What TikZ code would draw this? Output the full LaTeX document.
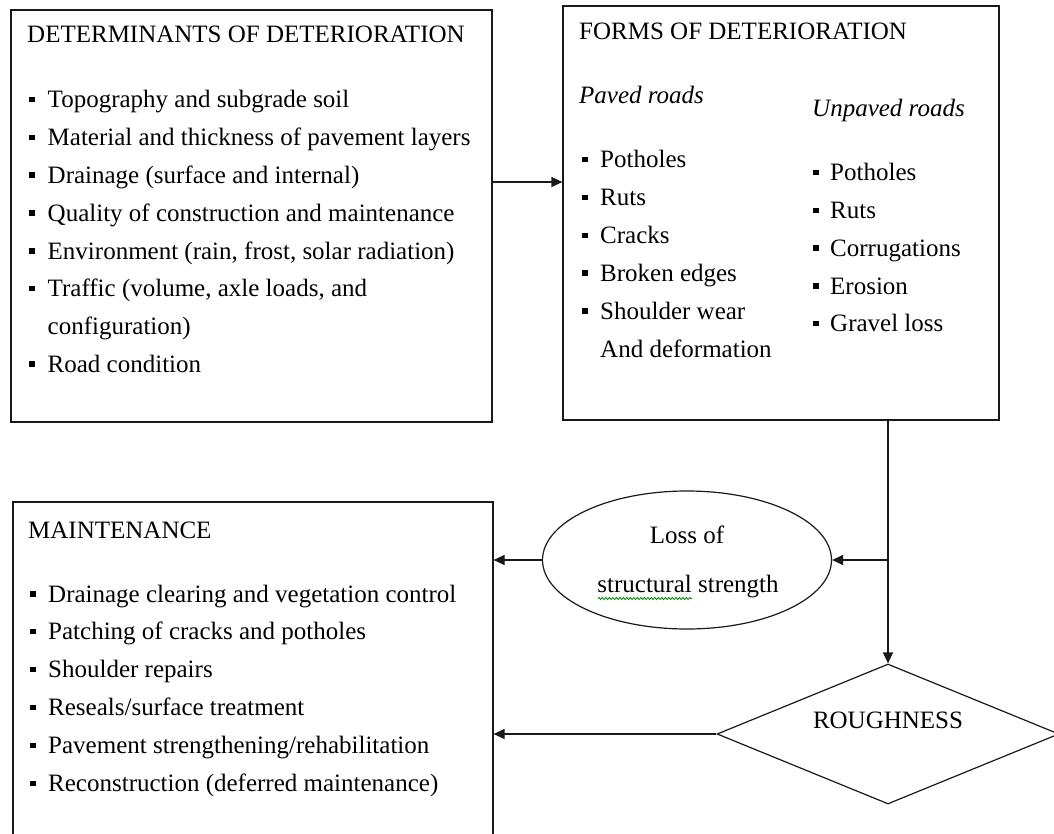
\documentclass[tikz,border=0pt]{standalone}
\usepackage{fontspec}
\setmainfont{Liberation Serif}
\usetikzlibrary{shapes.geometric,arrows.meta,decorations.pathmorphing}
\newcommand{\bsq}{\rule[5.5pt]{5.5pt}{5.5pt}}
\begin{document}
\begin{tikzpicture}[x=1pt,y=-1pt,
  frame/.style={draw=black!90, line width=1.2pt, inner sep=0pt},
  txt/.style={anchor=base west, inner sep=0pt, font=\fontsize{25}{29}\selectfont, text=black},
  ctxt/.style={anchor=base, inner sep=0pt, font=\fontsize{25}{29}\selectfont, text=black},
  conn/.style={draw=black!90, line width=1.2pt},
  arr/.style={conn, -{Triangle[length=11pt,width=10pt]}}]
\useasboundingbox[fill=white] (0,0) rectangle (1054,834);

% boxes
\node[frame, minimum width=481pt, minimum height=412pt] (box1) at (251.5,216) {};
\node[frame, minimum width=436pt, minimum height=414pt] (box2) at (781,213) {};
\node[frame, minimum width=480pt, minimum height=343pt] (box3) at (253,673.5) {};
\node[frame, ellipse, minimum width=289pt, minimum height=138pt] (ell) at (687,560) {};
\node[frame, diamond, minimum width=342pt, minimum height=140pt] (dia) at (888,734) {};

% box 1 text
\node[txt] (t1) at (27,43) {DETERMINANTS OF DETERIORATION};
\foreach \t [count=\i] in {Topography and subgrade soil,
  Material and thickness of pavement layers,
  Drainage (surface and internal),
  Quality of construction and maintenance,
  {Environment (rain, frost, solar radiation)},
  {Traffic (volume, axle loads, and}}
  \node[txt] (d\i) at (29,{108+37.75*(\i-1)}) {\bsq\hspace{13pt}\t};
\node[txt] (d7) at (47.5,{108+37.75*6}) {configuration)};
\node[txt] (d8) at (29,{108+37.75*7}) {\bsq\hspace{13pt}Road condition};

% box 2 text
\node[txt] (t2) at (579,40) {FORMS OF DETERIORATION};
\node[txt] (pv) at (579,104) {\itshape Paved roads};
\node[txt] (up) at (812,117) {\itshape Unpaved roads};
\foreach \t [count=\i] in {Potholes, Ruts, Cracks, Broken edges, Shoulder wear}
  \node[txt] (p\i) at (582,{168+37.8*(\i-1)}) {\bsq\hspace{12.5pt}\t};
\node[txt] (p6) at (600,{168+37.8*5}) {And deformation};
\foreach \t [count=\i] in {Potholes, Ruts, Corrugations, Erosion, Gravel loss}
  \node[txt] (u\i) at (813,{181+37.7*(\i-1)}) {\bsq\hspace{11.5pt}\t};

% box 3 text
\node[txt] (t3) at (28,538) {MAINTENANCE};
\foreach \t [count=\i] in {Drainage clearing and vegetation control,
  Patching of cracks and potholes,
  Shoulder repairs,
  Reseals/surface treatment,
  Pavement strengthening/rehabilitation,
  Reconstruction (deferred maintenance)}
  \node[txt] (m\i) at (30,{602+37.9*(\i-1)}) {\bsq\hspace{12.5pt}\t};

% ellipse and diamond text
\node[ctxt] (e1) at (687,543) {Loss of};
\node[ctxt] (e2) at (688,592) {structural strength};
\draw[green!55!black, line width=0.8pt, decorate,
  decoration={zigzag, amplitude=1.1pt, segment length=3.5pt}] (598,598.5) -- (692,598.5);
\node[ctxt] (r1) at (888,728) {ROUGHNESS};

% connectors
\coordinate (a) at (0,182);
\draw[arr] (box1.east |- a) -- (box2.west |- a);
\coordinate (top) at (dia.north |- box2.south);
\coordinate (br) at (dia.north |- ell.east);
\draw[arr] (top) -- (dia.north);
\draw[arr] (br) -- (ell.east);
\draw[arr] (ell.west) -- (ell.west -| box3.east);
\draw[arr] (dia.west) -- (dia.west -| box3.east);
\end{tikzpicture}
\end{document}
